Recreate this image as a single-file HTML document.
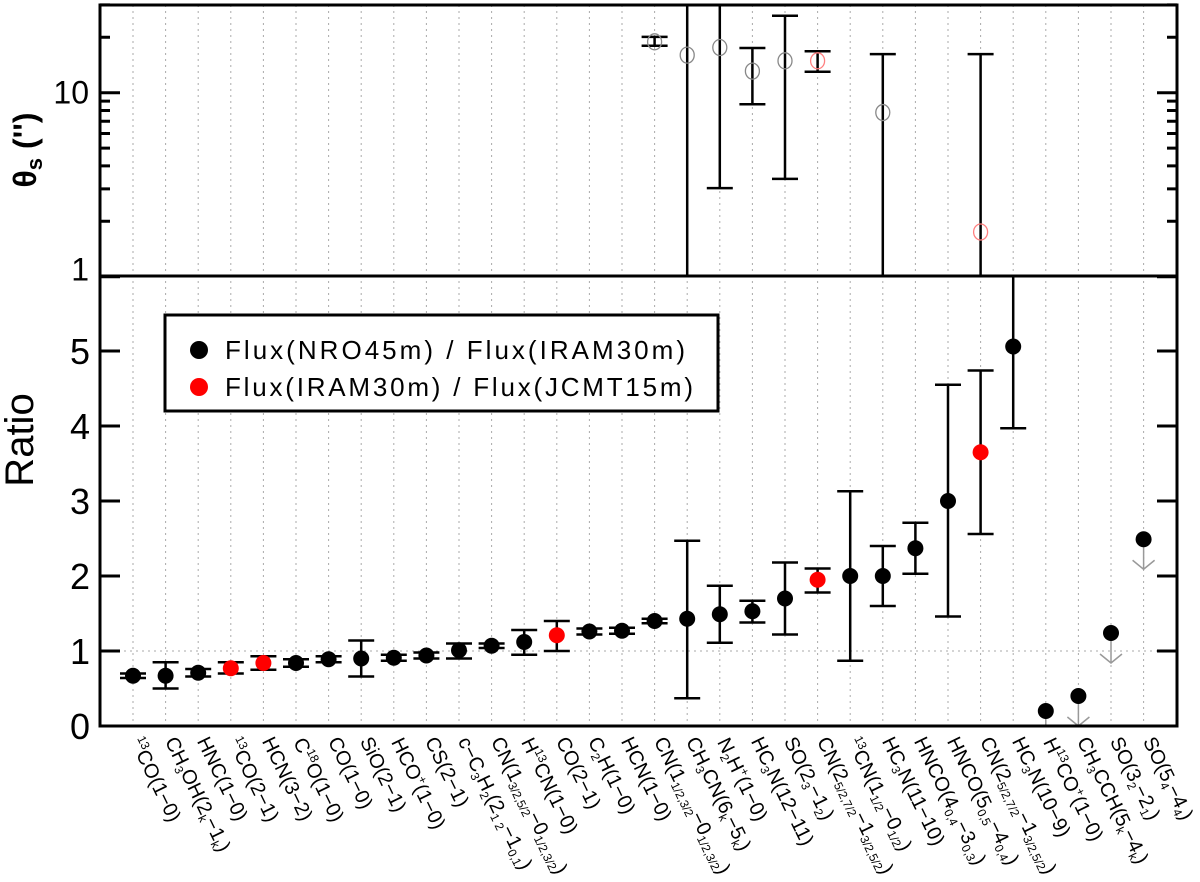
<!DOCTYPE html>
<html><head><meta charset="utf-8">
<style>
html,body{margin:0;padding:0;background:#fff;}
#wrap{position:relative;width:1200px;height:882px;overflow:hidden;font-family:"Liberation Sans",sans-serif;}
.xl{position:absolute;font-size:20px;white-space:nowrap;transform-origin:0 0;transform:rotate(64deg);line-height:1;color:#000;}
.xl sub,.xl sup{font-size:12px;}
.xl sub{vertical-align:-4px;}
.xl sup{vertical-align:8px;}
</style></head>
<body>
<div id="wrap">
<svg id="svg" width="1200" height="882" viewBox="0 0 1200 882" xmlns="http://www.w3.org/2000/svg">
<defs>
<clipPath id="clipTop"><rect x="100" y="5" width="1077" height="271"/></clipPath>
<clipPath id="clipBot"><rect x="100" y="276" width="1077" height="450"/></clipPath>
</defs>
<g id="grid"></g>
<g id="marks"></g>
<g id="axes"></g>
<text x="0" y="0" transform="translate(36,150) rotate(-90)" text-anchor="middle" font-size="32" font-weight="bold" font-family="Liberation Sans, sans-serif">θ<tspan font-size="22" dy="6">s</tspan><tspan dy="-6"> ('')</tspan></text>
<text x="0" y="0" transform="translate(33,440) rotate(-90)" text-anchor="middle" font-size="40" font-family="Liberation Sans, sans-serif">Ratio</text>
<g>
<rect x="165" y="315" width="553" height="96" fill="#fff" stroke="#000" stroke-width="3"/>
<circle cx="199" cy="350" r="9" fill="#000"/>
<text x="225" y="359" font-size="26" font-family="Liberation Sans, sans-serif" textLength="460">Flux(NRO45m) / Flux(IRAM30m)</text>
<circle cx="199" cy="387" r="9" fill="#ff0000"/>
<text x="225" y="396" font-size="26" font-family="Liberation Sans, sans-serif" textLength="468">Flux(IRAM30m) / Flux(JCMT15m)</text>
</g>
</svg>
</div>
<script>
// ---------- data ----------
const categories = ["<sup>13</sup>CO(1−0)","CH<sub>3</sub>OH(2<sub>k</sub>−1<sub>k</sub>)","HNC(1−0)","<sup>13</sup>CO(2−1)","HCN(3−2)","C<sup>18</sup>O(1−0)","CO(1−0)","SiO(2−1)","HCO<sup>+</sup>(1−0)","CS(2−1)","c−C<sub>3</sub>H<sub>2</sub>(2<sub>1 2</sub>−1<sub>0,1</sub>)","CN(1<sub>3/2,5/2</sub>−0<sub>1/2,3/2</sub>)","H<sup>13</sup>CN(1−0)","CO(2−1)","C<sub>2</sub>H(1−0)","HCN(1−0)","CN(1<sub>1/2,3/2</sub>−0<sub>1/2,3/2</sub>)","CH<sub>3</sub>CN(6<sub>k</sub>−5<sub>k</sub>)","N<sub>2</sub>H<sup>+</sup>(1−0)","HC<sub>3</sub>N(12−11)","SO(2<sub>3</sub>−1<sub>2</sub>)","CN(2<sub>5/2,7/2</sub>−1<sub>3/2,5/2</sub>)","<sup>13</sup>CN(1<sub>1/2</sub>−0<sub>1/2</sub>)","HC<sub>3</sub>N(11−10)","HNCO(4<sub>0,4</sub>−3<sub>0,3</sub>)","HNCO(5<sub>0,5</sub>−4<sub>0,4</sub>)","CN(2<sub>5/2,7/2</sub>−1<sub>3/2,5/2</sub>)","HC<sub>3</sub>N(10−9)","H<sup>13</sup>CO<sup>+</sup>(1−0)","CH<sub>3</sub>CCH(5<sub>k</sub>−4<sub>k</sub>)","SO(3<sub>2</sub>−2<sub>1</sub>)","SO(5<sub>4</sub>−4<sub>4</sub>)"];
const ratioVal = [0.67,0.67,0.71,0.77,0.84,0.84,0.89,0.90,0.91,0.94,1.01,1.07,1.12,1.21,1.26,1.27,1.40,1.43,1.49,1.53,1.70,1.95,2.00,2.00,2.37,3.00,3.65,5.06,0.20,0.40,1.24,2.49];
const ratioLo  = [0.64,0.50,0.66,0.70,0.75,0.79,0.85,0.66,0.87,0.90,0.90,1.04,0.95,1.00,1.22,1.23,1.37,0.37,1.11,1.38,1.22,1.78,0.87,1.60,2.03,1.46,2.56,3.97,null,null,null,null];
const ratioHi  = [0.70,0.85,0.76,0.85,0.93,0.89,0.93,1.14,0.95,0.98,1.10,1.10,1.28,1.40,1.30,1.31,1.43,2.47,1.87,1.67,2.18,2.10,3.13,2.40,2.71,4.55,4.74,6.50,null,null,null,null];
const ratioRed = [0,0,0,1,1,0,0,0,0,0,0,0,0,1,0,0,0,0,0,0,0,1,0,0,0,0,1,0,0,0,0,0];
const upperLimit = [0,0,0,0,0,0,0,0,0,0,0,0,0,0,0,0,0,0,0,0,0,0,0,0,0,0,0,0,1,1,1,1];
const thetaIdx = [16,17,18,19,20,21,23,26];
const thetaVal = [18.9,16.0,17.6,13.1,14.9,14.9,7.8,1.75];
const thetaLo  = [18.0,0.5,3.03,8.65,3.4,13.0,0.5,0.5];
const thetaHi  = [20.1,50,50,17.5,26.2,16.8,16.2,16.2];
const thetaRed = [0,0,0,0,0,1,0,1];
const ratioTicks = [0,1,2,3,4,5];
const thetaMajor = [1,10];
const thetaMinor = [2,3,4,5,6,7,8,9,20,30];

// ---------- scales ----------
const X0=100, X1=1177, TOPY=5, MIDY=276, BOTY=726;
function xPos(i){ return 133 + 32.6*i; }
function yRatio(v){ return BOTY - v*(BOTY-MIDY)/6; }
function yTheta(v){ return 276.7 - Math.log10(v)*184; }

const NS="http://www.w3.org/2000/svg";
function mk(tag, attrs, parent){
  const e=document.createElementNS(NS,tag);
  for(const k in attrs) e.setAttribute(k,attrs[k]);
  parent.appendChild(e); return e;
}
const gridG=document.getElementById('grid');
const marksG=document.getElementById('marks');
const axesG=document.getElementById('axes');

for(let i=0;i<categories.length;i++){
  const g=mk('line',{x1:xPos(i),x2:xPos(i),y1:TOPY,y2:BOTY,stroke:'#aaa','stroke-width':1,'stroke-dasharray':'2,4'},gridG);
  
  
}
const hl=mk('line',{x1:X0,x2:X1,y1:yRatio(1),y2:yRatio(1),stroke:'#aaa','stroke-width':1,'stroke-dasharray':'2,4'},gridG);



const botG=mk('g',{'clip-path':'url(#clipBot)'},marksG);


for(let i=0;i<ratioVal.length;i++){
  const x=xPos(i), y=yRatio(ratioVal[i]);
  if(ratioLo[i]!==null){
    const eb=mk('path',{d:`M${x},${yRatio(ratioLo[i])}V${yRatio(ratioHi[i])}M${x-13},${yRatio(ratioLo[i])}h26M${x-13},${yRatio(ratioHi[i])}h26`,stroke:'#000','stroke-width':2.5,fill:'none'},botG);
    
    
  }
  if(upperLimit[i]){
    const ty=y+30;
    const ar=mk('path',{d:`M${x},${y}V${ty}M${x-11},${ty-9}L${x},${ty}L${x+11},${ty-9}`,stroke:'#999','stroke-width':1.5,fill:'none'},botG);
    
    
  }
  const c=mk('circle',{cx:x,cy:y,r:8,fill:ratioRed[i]?'#ff0000':'#000'},botG);
  
  
}

const topG=mk('g',{'clip-path':'url(#clipTop)'},marksG);


for(let k=0;k<thetaIdx.length;k++){
  const x=xPos(thetaIdx[k]);
  const eb=mk('path',{d:`M${x},${yTheta(thetaLo[k])}V${yTheta(thetaHi[k])}M${x-13},${yTheta(thetaLo[k])}h26M${x-13},${yTheta(thetaHi[k])}h26`,stroke:'#000','stroke-width':2.5,fill:'none'},topG);
  
  
  const c=mk('ellipse',{cx:x,cy:yTheta(thetaVal[k]),rx:7,ry:8,fill:'none',stroke:thetaRed[k]?'#ff8080':'#888','stroke-width':1.3},topG);
  
  
}

const fr1=mk('rect',{x:X0,y:TOPY,width:X1-X0,height:BOTY-TOPY,fill:'none',stroke:'#000','stroke-width':3},axesG);


const divl=mk('line',{x1:X0,x2:X1,y1:MIDY,y2:MIDY,stroke:'#000','stroke-width':3},axesG);



for(const t of ratioTicks){
  const y=yRatio(t);
  const tk=mk('path',{d:`M${X0},${y}h20M${X1},${y}h-20`,stroke:'#000','stroke-width':3},axesG);
  
  
  const tl=mk('text',{x:90,y:y+13,'text-anchor':'end','font-size':36,'font-family':'Liberation Sans, sans-serif'},axesG);
  tl.textContent=String(t);
  
  
}
for(const t of thetaMajor){
  const y=yTheta(t);
  const tk=mk('path',{d:`M${X0},${y}h20M${X1},${y}h-20`,stroke:'#000','stroke-width':3},axesG);
  
  
  const tl=mk('text',{x:89,y:y+(t===1?4:11),'text-anchor':'end','font-size':32,'font-family':'Liberation Sans, sans-serif'},axesG);
  tl.textContent=String(t);
  
  
}
for(const t of thetaMinor){
  const y=yTheta(t);
  const tk=mk('path',{d:`M${X0},${y}h10M${X1},${y}h-10`,stroke:'#000','stroke-width':3},axesG);
  
  
}

const wrap=document.getElementById('wrap');
for(let i=0;i<categories.length;i++){
  const d=document.createElement('div');
  d.className='xl';
  d.innerHTML=categories[i];
  d.style.left=(xPos(i)+13)+'px';
  d.style.top='734px';
  
  
  wrap.appendChild(d);
}
</script>
</body></html>
